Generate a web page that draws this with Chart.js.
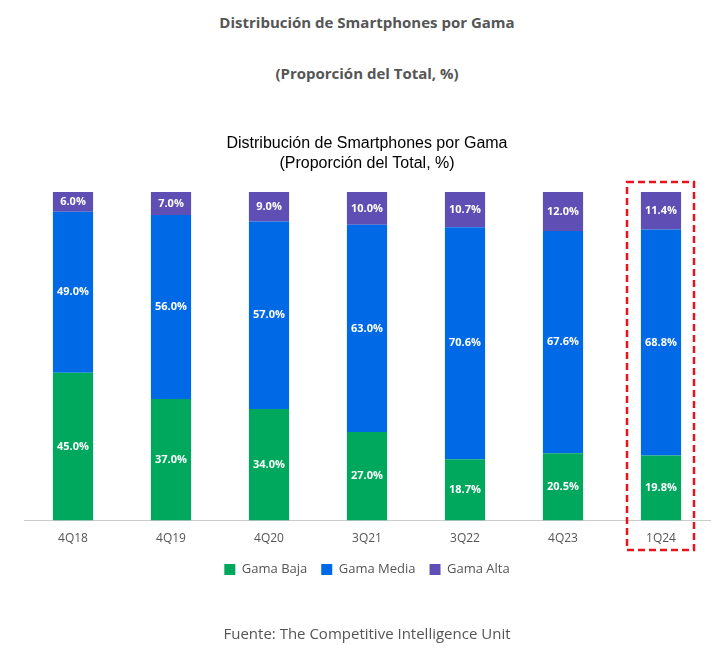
<!DOCTYPE html>
<html lang="es">
<head>
    <meta charset="UTF-8">
    <title>Distribución de Smartphones por Gama</title>
    <script src="https://cdn.jsdelivr.net/npm/chart.js"></script>
    <style>
        body { margin: 0; background: #fff; font-family: "Open Sans", sans-serif; }
        #wrap { position: relative; width: 724px; height: 658px; }
        .txt { position: absolute; left: 0; width: 734px; text-align: center; color: #555; }
        canvas { position: absolute; left: 0; top: 0; }
    </style>
</head>
<body>
<div id="wrap">
    <div class="txt" style="top:12px;font-weight:bold;font-size:15px;">Distribución de Smartphones por Gama</div>
    <div class="txt" style="top:63px;font-weight:bold;font-size:15px;">(Proporción del Total, %)</div>
    <canvas id="chart" width="724" height="658"></canvas>
    <div class="txt" style="top:623px;font-size:15px;width:734px;">Fuente: The Competitive Intelligence Unit</div>
</div>
<script>
    // Datos
    const periodos = ["4Q18", "4Q19", "4Q20", "3Q21", "3Q22", "4Q23", "1Q24"];
    const gamaBaja = [45.0, 37.0, 34.0, 27.0, 18.7, 20.5, 19.8];
    const gamaMedia = [49.0, 56.0, 57.0, 63.0, 70.6, 67.6, 68.8];
    const gamaAlta = [6.0, 7.0, 9.0, 10.0, 10.7, 12.0, 11.4];

    // Etiquetas blancas dentro de cada segmento
    const labelsPlugin = {
        id: "labels",
        afterDatasetsDraw(chart) {
            const ctx = chart.ctx;
            ctx.save();
            ctx.fillStyle = "#fff";
            ctx.font = "bold 11px 'Open Sans'";
            ctx.textAlign = "center";
            ctx.textBaseline = "middle";
            chart.data.datasets.forEach((ds, i) => {
                chart.getDatasetMeta(i).data.forEach((bar, j) => {
                    const y = (bar.y + bar.base) / 2;
                    ctx.fillText(ds.data[j].toFixed(1) + "%", bar.x, y);
                });
            });
            ctx.restore();
        }
    };

    // Recuadro rojo punteado sobre el último periodo
    const highlightPlugin = {
        id: "highlight",
        afterDraw(chart) {
            const x = chart.scales.x.getPixelForValue(periodos.length - 1);
            const ctx = chart.ctx;
            ctx.save();
            ctx.strokeStyle = "#e8141b";
            ctx.lineWidth = 2.5;
            ctx.setLineDash([7, 4]);
            ctx.strokeRect(x - 34, 182, 67, 368);
            ctx.restore();
        }
    };

    new Chart(document.getElementById("chart"), {
        type: "bar",
        data: {
            labels: periodos,
            datasets: [
                { label: "Gama Baja", data: gamaBaja, backgroundColor: "#00a85d" },
                { label: "Gama Media", data: gamaMedia, backgroundColor: "#0069e6" },
                { label: "Gama Alta", data: gamaAlta, backgroundColor: "#5f4fb5" }
            ]
        },
        options: {
            responsive: false,
            animation: false,
            layout: { padding: { top: 134, left: 24, right: 14, bottom: 72 } },
            datasets: { bar: { categoryPercentage: 1, barPercentage: 0.41 } },
            scales: {
                x: {
                    stacked: true,
                    grid: { display: false },
                    border: { color: "#ccc" },
                    ticks: { color: "#555", font: { family: "Open Sans", size: 12 } }
                },
                y: { stacked: true, display: false, min: 0, max: 100 }
            },
            plugins: {
                title: {
                    display: true,
                    text: ["Distribución de Smartphones por Gama", "(Proporción del Total, %)"],
                    color: "#000",
                    font: { family: "Liberation Sans", size: 16, weight: "normal", lineHeight: 1.25 },
                    padding: { top: 0, bottom: 18 }
                },
                legend: {
                    position: "bottom",
                    labels: { color: "#555", boxWidth: 11, boxHeight: 11, padding: 14,
                        font: { family: "Open Sans", size: 13 } }
                },
                tooltip: { enabled: false }
            }
        },
        plugins: [labelsPlugin, highlightPlugin]
    });
</script>
</body>
</html>
